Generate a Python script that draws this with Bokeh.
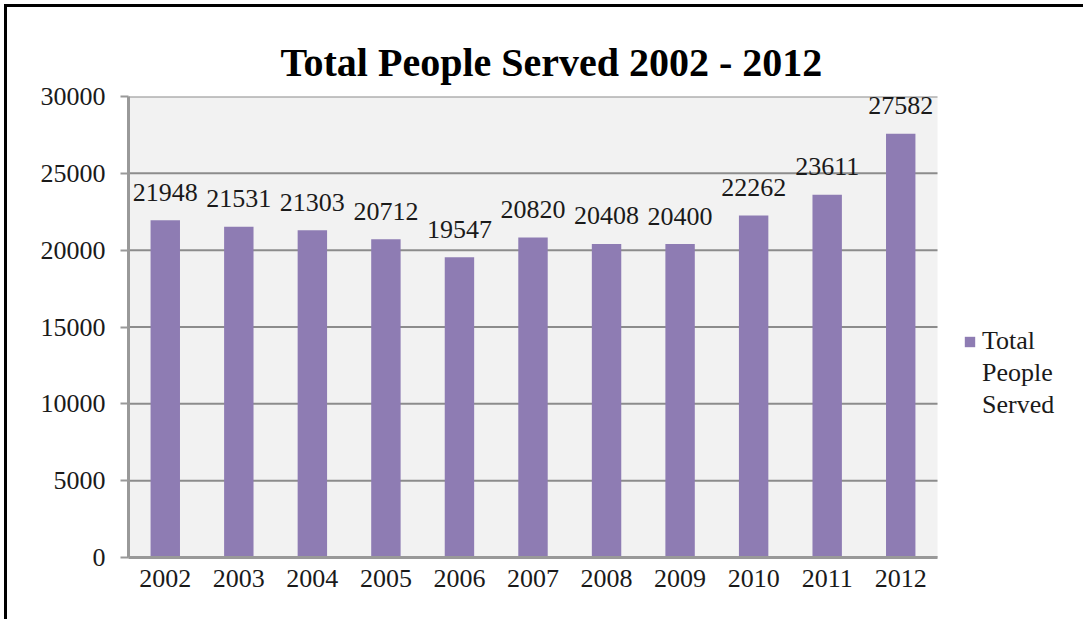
from bokeh.plotting import figure
from bokeh.models import ColumnDataSource, Range1d, FixedTicker, Legend, LegendItem, Title
from bokeh.core.properties import value
from bokeh.embed import file_html
from bokeh.resources import INLINE

years = ["2002", "2003", "2004", "2005", "2006", "2007", "2008", "2009", "2010", "2011", "2012"]
served = [21948, 21531, 21303, 20712, 19547, 20820, 20408, 20400, 22262, 23611, 27582]
y_ticks = [0, 5000, 10000, 15000, 20000, 25000, 30000]
legend_lines = ["Total", "People", "Served"]

FONT = "Liberation Serif"
BAR = "#8e7cb3"
TXT = "#1a1a1a"
GRID = "#8c8c8c"

n = len(years)
pos = list(range(1, n + 1))
src = ColumnDataSource(dict(x=pos, top=served, label=[str(v) for v in served]))

# the frame runs to the right edge; the grey plotting area covers only the categories,
# the rest of the frame holds the legend
area_lo, area_hi = 0.5, n + 0.5
x_end = area_lo + (n) * 958 / 809

p = figure(x_range=Range1d(area_lo, x_end), y_range=Range1d(y_ticks[0], y_ticks[-1]),
           width=1079, height=615, output_backend="svg", toolbar_location=None,
           min_border_left=121, min_border_right=0, min_border_top=89, min_border_bottom=65)
p.margin = (4, 0, 0, 4)
p.styles = {"border-left": "3px solid black", "border-top": "3px solid black"}
p.title = Title(text="Total People Served 2002 - 2012", align="left", offset=152,
                text_font=FONT, text_font_size="40px", text_font_style="bold",
                text_color="black", standoff=24)

p.background_fill_color = "white"
p.border_fill_color = "white"
p.outline_line_color = None
p.grid.grid_line_color = None

p.quad(left=[area_lo], right=[area_hi], bottom=[y_ticks[0]], top=[y_ticks[-1]],
       fill_color="#f2f2f2", line_color=None)
p.segment(x0=[area_lo] * len(y_ticks), x1=[area_hi] * len(y_ticks), y0=y_ticks, y1=y_ticks,
          line_color=GRID, line_width=2)

r = p.vbar(x="x", top="top", width=0.4, source=src, fill_color=BAR, line_color=None)
ghost = p.vbar(x="x", top="top", width=0.4, source=src, fill_alpha=0, line_alpha=0)
p.text(x="x", y="top", text="label", source=src, text_align="center", text_baseline="alphabetic",
       y_offset=-28, text_font=value(FONT), text_font_size="26px", text_color=TXT)

p.yaxis.ticker = FixedTicker(ticks=y_ticks)
p.xaxis.ticker = FixedTicker(ticks=pos)
p.xaxis.major_label_overrides = {k: y for k, y in zip(pos, years)}
p.xaxis.bounds = (area_lo, area_hi)

for ax in (p.xaxis, p.yaxis):
    ax.axis_line_color = "#999999"
    ax.axis_line_width = 3
    ax.major_label_text_font = FONT
    ax.major_label_text_font_size = "26px"
    ax.major_label_text_color = TXT
    ax.minor_tick_line_color = None

p.yaxis.major_tick_line_color = "#999999"
p.yaxis.major_tick_line_width = 2
p.yaxis.major_tick_out = 8
p.yaxis.major_tick_in = 0
p.yaxis.major_label_standoff = 15
p.xaxis.major_tick_line_color = None
p.xaxis.major_label_standoff = 6

items = [LegendItem(label=legend_lines[0], renderers=[r])] + \
        [LegendItem(label=t, renderers=[ghost]) for t in legend_lines[1:]]
legend = Legend(items=items, location=(835, 137), border_line_color=None, background_fill_alpha=0,
                label_text_font=FONT, label_text_font_size="26px", label_text_color=TXT,
                glyph_width=13, glyph_height=13, label_standoff=6, padding=0, margin=0,
                label_height=26, spacing=2)
p.add_layout(legend, "center")

open("out.html", "w").write(file_html(p, INLINE))
